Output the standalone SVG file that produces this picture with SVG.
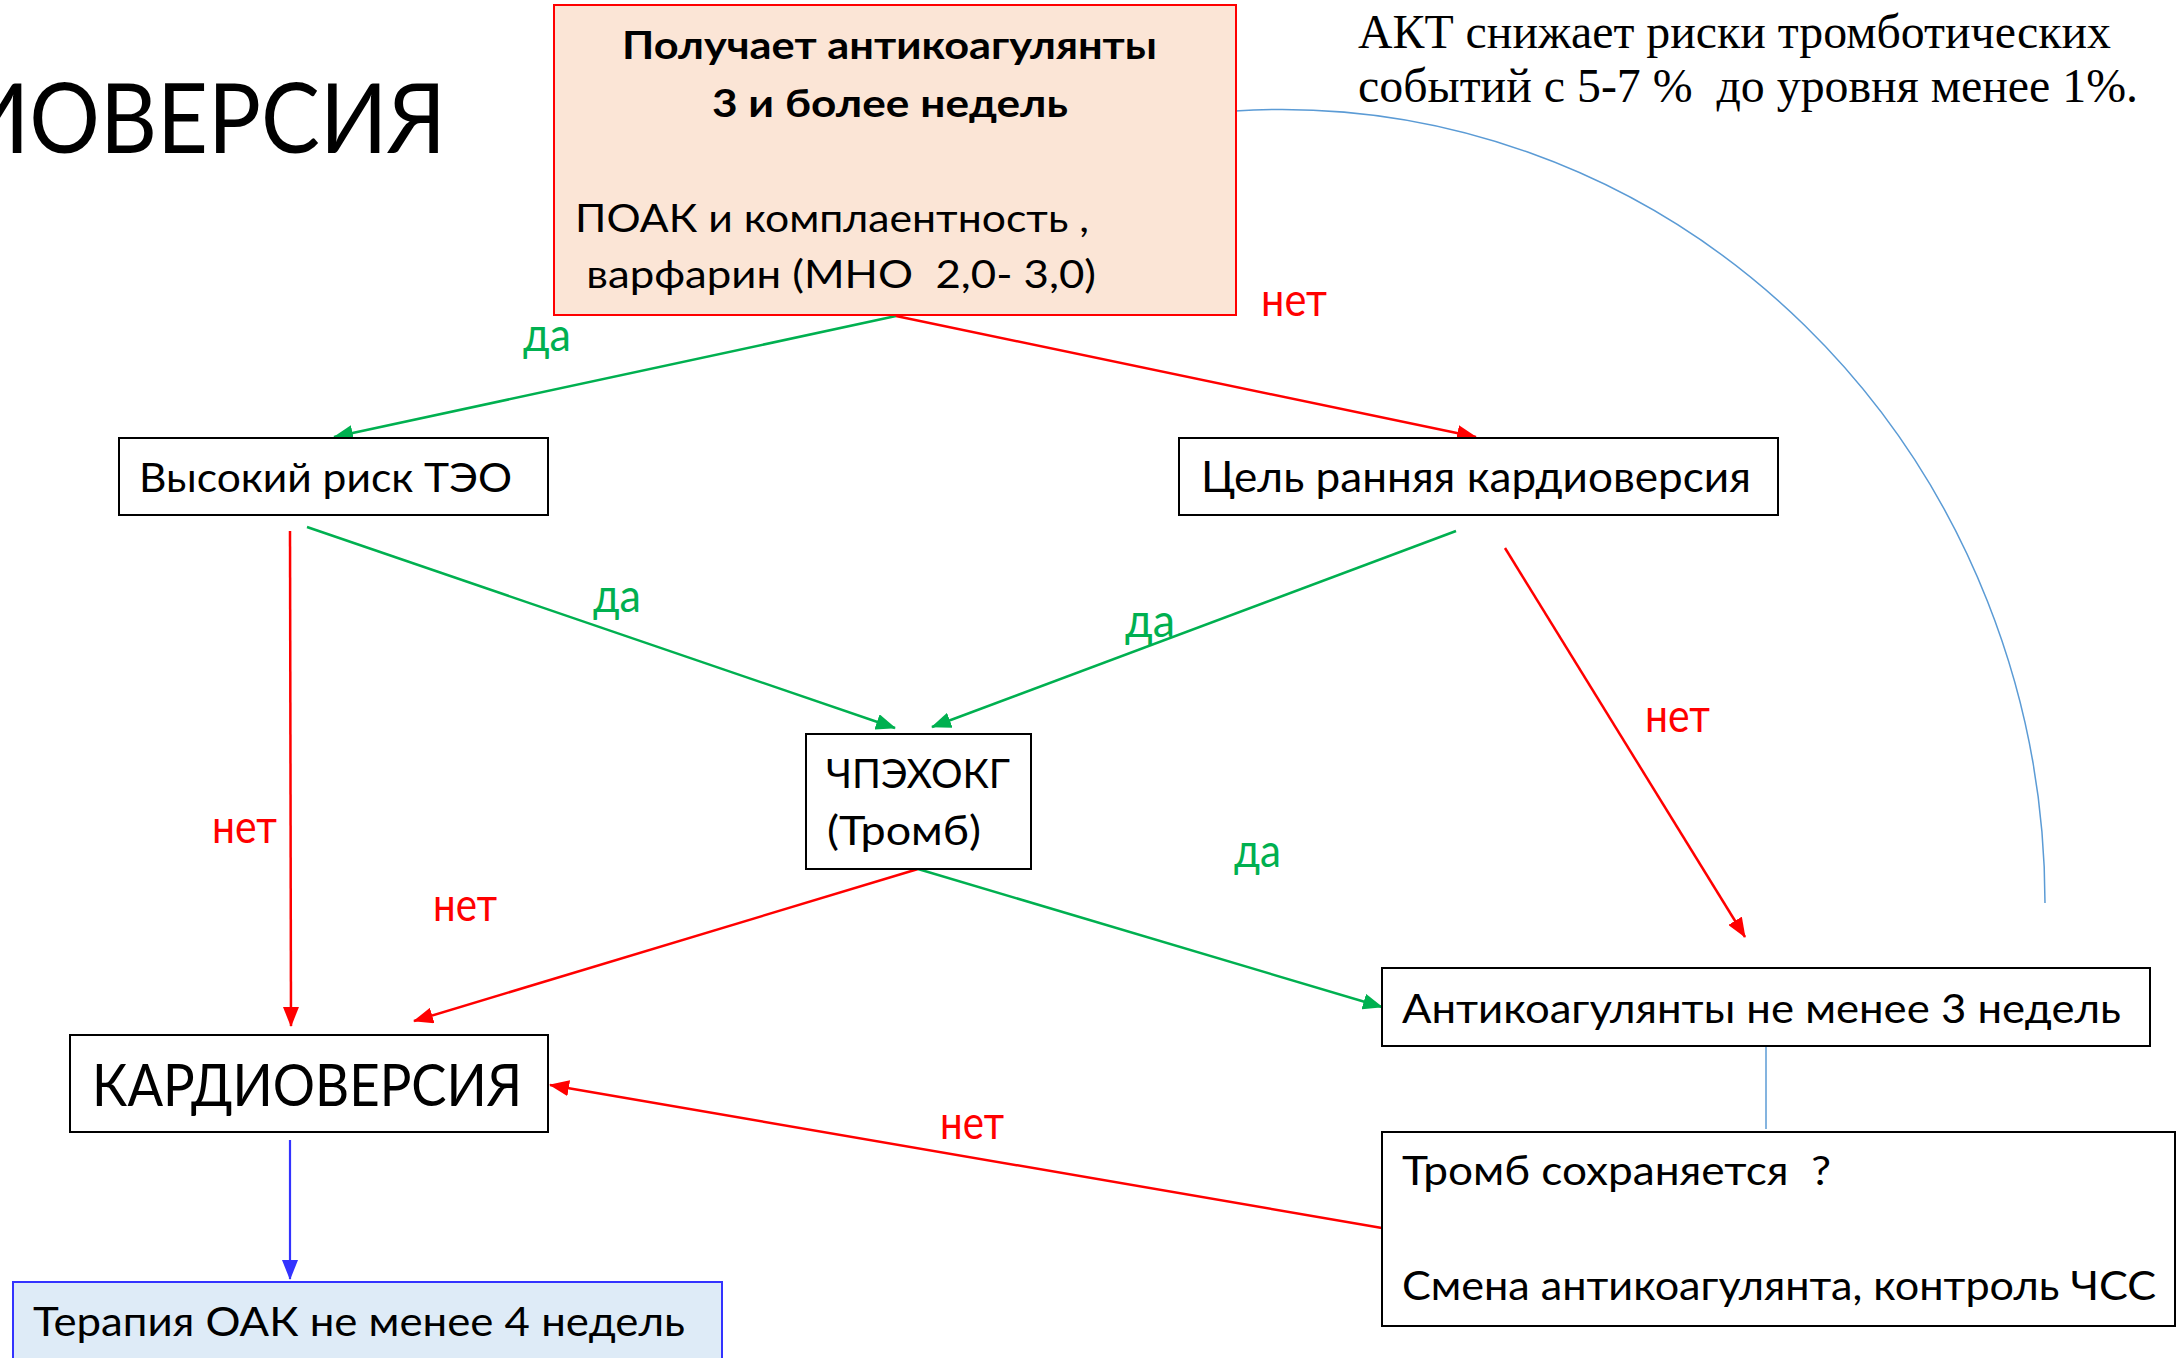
<svg xmlns="http://www.w3.org/2000/svg" width="2177" height="1358" viewBox="0 0 2177 1358">
  <style>
    .box { fill: #FFFFFF; stroke: #000000; stroke-width: 2; }
    .t { font-family: Lato, "Open Sans", "Liberation Sans", sans-serif; fill: #000000; }
    .tb { font-family: Lato, "Open Sans", "Liberation Sans", sans-serif; font-weight: 700; fill: #000000; }
    .serif { font-family: "Liberation Serif", "DejaVu Serif", serif; fill: #000000; }
    .yes { font-family: Lato, "Open Sans", "Liberation Sans", sans-serif; font-size: 46px; fill: #00B050; }
    .no { font-family: Lato, "Open Sans", "Liberation Sans", sans-serif; font-size: 46px; fill: #FF0000; }
    .g { stroke: #00B050; stroke-width: 2.5; fill: none; marker-end: url(#ahG); }
    .r { stroke: #FF0000; stroke-width: 2.5; fill: none; marker-end: url(#ahR); }
    .b { stroke: #3333FF; stroke-width: 2.2; fill: none; marker-end: url(#ahB); }
    .thin { stroke: #5B9BD5; stroke-width: 1.5; fill: none; }
  </style>
  <defs>
    <marker id="ahG" markerUnits="userSpaceOnUse" markerWidth="20" markerHeight="16" refX="19" refY="8" orient="auto">
      <path d="M0,0 L20,8 L0,16 z" fill="#00B050"/>
    </marker>
    <marker id="ahR" markerUnits="userSpaceOnUse" markerWidth="20" markerHeight="16" refX="19" refY="8" orient="auto">
      <path d="M0,0 L20,8 L0,16 z" fill="#FF0000"/>
    </marker>
    <marker id="ahB" markerUnits="userSpaceOnUse" markerWidth="20" markerHeight="16" refX="19" refY="8" orient="auto">
      <path d="M0,0 L20,8 L0,16 z" fill="#3333FF"/>
    </marker>
  </defs>

  <rect x="0" y="0" width="2177" height="1358" fill="#FFFFFF"/>

  <!-- slide title, running off the left edge -->
  <text id="title" class="t" x="-38" y="153" font-size="97" textLength="484" lengthAdjust="spacingAndGlyphs">ИОВЕРСИЯ</text>

  <!-- side note -->
  <g id="note">
    <text class="serif" x="1358" y="48" font-size="48" textLength="753" lengthAdjust="spacingAndGlyphs">АКТ снижает риски тромботических</text>
    <text class="serif" x="1358" y="102" font-size="48" textLength="780" lengthAdjust="spacingAndGlyphs" xml:space="preserve">событий с 5-7 %  до уровня менее 1%.</text>
  </g>

  <!-- connectors -->
  <g id="connectors">
    <line class="g" x1="896" y1="316" x2="334" y2="437"/>
    <line class="r" x1="896" y1="316" x2="1476" y2="437"/>
    <line class="r" x1="290" y1="531" x2="291" y2="1026"/>
    <line class="g" x1="307" y1="527" x2="895" y2="728"/>
    <line class="g" x1="1456" y1="531" x2="932" y2="727"/>
    <line class="r" x1="1505" y1="548" x2="1745" y2="937"/>
    <line class="r" x1="918" y1="869" x2="414" y2="1021"/>
    <line class="g" x1="918" y1="869" x2="1382" y2="1007"/>
    <line class="r" x1="1382" y1="1228" x2="550" y2="1085"/>
    <line class="b" x1="290" y1="1140" x2="290" y2="1279"/>
    <line class="thin" x1="1766" y1="1046" x2="1766" y2="1129"/>
    <path class="thin" d="M1235,111 A764,794 0 0 1 2045,903"/>

    <text class="yes" x="523" y="351" textLength="48" lengthAdjust="spacingAndGlyphs">да</text>
    <text class="no" x="1261" y="316" textLength="66" lengthAdjust="spacingAndGlyphs">нет</text>
    <text class="yes" x="593" y="612" textLength="48" lengthAdjust="spacingAndGlyphs">да</text>
    <text class="no" x="212" y="843" textLength="65" lengthAdjust="spacingAndGlyphs">нет</text>
    <text class="yes" x="1125" y="637" textLength="50" lengthAdjust="spacingAndGlyphs">да</text>
    <text class="no" x="1645" y="732" textLength="65" lengthAdjust="spacingAndGlyphs">нет</text>
    <text class="no" x="433" y="921" textLength="64" lengthAdjust="spacingAndGlyphs">нет</text>
    <text class="yes" x="1234" y="867" textLength="47" lengthAdjust="spacingAndGlyphs">да</text>
    <text class="no" x="940" y="1139" textLength="64" lengthAdjust="spacingAndGlyphs">нет</text>
  </g>

  <!-- start node -->
  <g id="node-start">
    <rect x="554" y="5" width="682" height="310" fill="#FBE5D6" stroke="#FF0000" stroke-width="2"/>
    <text class="tb" x="622" y="59" font-size="39" textLength="535" lengthAdjust="spacingAndGlyphs">Получает антикоагулянты</text>
    <text class="tb" x="712" y="117" font-size="39" textLength="356" lengthAdjust="spacingAndGlyphs">3 и более недель</text>
    <text class="t" x="575" y="232" font-size="39" textLength="514" lengthAdjust="spacingAndGlyphs">ПОАК и комплаентность ,</text>
    <text class="t" x="575" y="288" font-size="39" textLength="521" lengthAdjust="spacingAndGlyphs" xml:space="preserve"> варфарин (МНО  2,0- 3,0)</text>
  </g>

  <g id="node-high-risk">
    <rect class="box" x="119" y="438" width="429" height="77"/>
    <text class="t" x="139" y="492" font-size="41" textLength="373" lengthAdjust="spacingAndGlyphs">Высокий риск ТЭО</text>
  </g>

  <g id="node-early">
    <rect class="box" x="1179" y="438" width="599" height="77"/>
    <text class="t" x="1201" y="492" font-size="42" textLength="550" lengthAdjust="spacingAndGlyphs">Цель ранняя кардиоверсия</text>
  </g>

  <g id="node-tee">
    <rect class="box" x="806" y="734" width="225" height="135"/>
    <text class="t" x="826" y="788" font-size="40" textLength="184" lengthAdjust="spacingAndGlyphs">ЧПЭХОКГ</text>
    <text class="t" x="827" y="845" font-size="40" textLength="154" lengthAdjust="spacingAndGlyphs">(Тромб)</text>
  </g>

  <g id="node-anticoag">
    <rect class="box" x="1382" y="968" width="768" height="78"/>
    <text class="t" x="1402" y="1023" font-size="40" textLength="719" lengthAdjust="spacingAndGlyphs">Антикоагулянты не менее 3 недель</text>
  </g>

  <g id="node-thrombus">
    <rect class="box" x="1382" y="1132" width="793" height="194"/>
    <text class="t" x="1402" y="1185" font-size="40" textLength="429" lengthAdjust="spacingAndGlyphs" xml:space="preserve">Тромб сохраняется  ?</text>
    <text class="t" x="1402" y="1300" font-size="40" textLength="754" lengthAdjust="spacingAndGlyphs">Смена антикоагулянта, контроль ЧСС</text>
  </g>

  <g id="node-cardioversion">
    <rect class="box" x="70" y="1035" width="478" height="97"/>
    <text class="t" x="92" y="1106" font-size="58" textLength="430" lengthAdjust="spacingAndGlyphs">КАРДИОВЕРСИЯ</text>
  </g>

  <g id="node-therapy">
    <rect x="13" y="1282" width="709" height="110" fill="#DEEBF7" stroke="#3333FF" stroke-width="2"/>
    <text class="t" x="33" y="1336" font-size="40" textLength="652" lengthAdjust="spacingAndGlyphs">Терапия ОАК не менее 4 недель</text>
  </g>
</svg>
